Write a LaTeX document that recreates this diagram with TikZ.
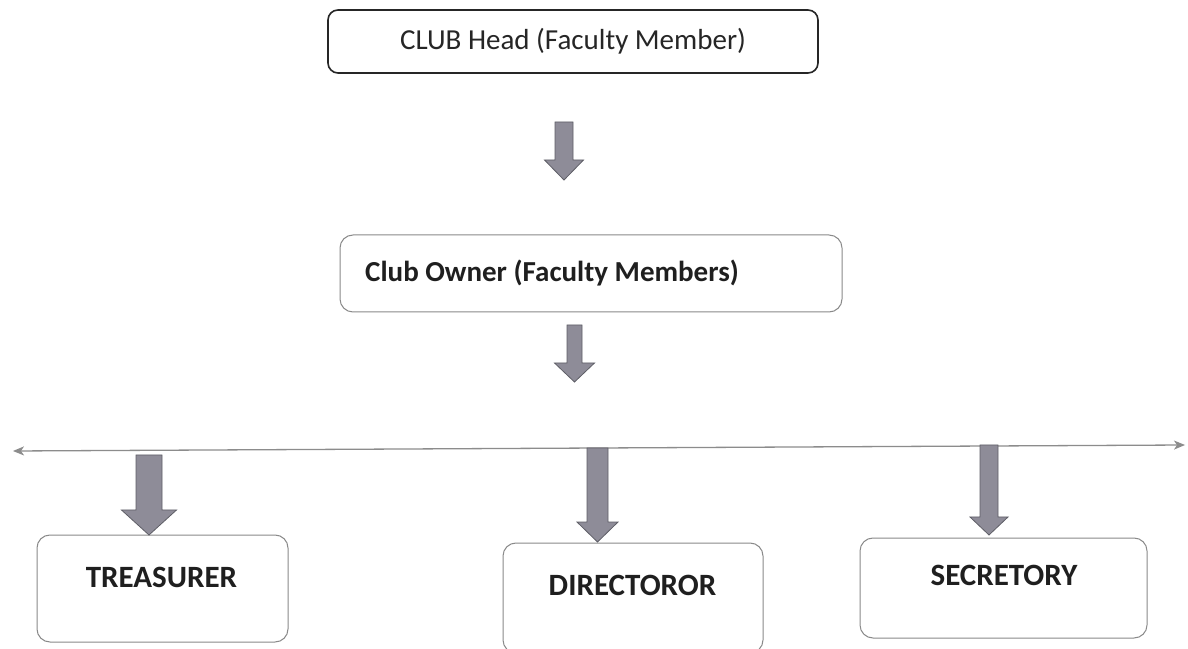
\documentclass[tikz,border=0pt]{standalone}
\usepackage{fontspec}
\setmainfont{Carlito}
\usetikzlibrary{arrows.meta}
\definecolor{arrfill}{HTML}{8E8C98}
\definecolor{arrdraw}{HTML}{5E5E66}
\definecolor{boxgray}{HTML}{8A8A8A}
\definecolor{linegray}{HTML}{8C8C8C}
\newcommand{\fatarr}[6]{%
  \filldraw[fatarrow] (#1-#5,648-#2) -- (#1+#5,648-#2) -- (#1+#5,648-#3) -- (#1+#6,648-#3)
    -- (#1,648-#4) -- (#1-#6,648-#3) -- (#1-#5,648-#3) -- cycle;}
\tikzset{
  fatarrow/.style={fill=arrfill, draw=arrdraw, line width=0.8pt, line join=miter},
  headbox/.style={draw=black!85, line width=1.6pt, rounded corners=10pt, inner sep=0pt},
  softbox/.style={draw=boxgray, line width=1pt, rounded corners=13pt, inner sep=0pt},
  toplabel/.style={font=\fontsize{29}{34}\selectfont, text=black!85, inner sep=0pt},
  boldlabel/.style={font=\fontsize{29}{34}\selectfont\bfseries, text=black!88, inner sep=0pt},
  rolelabel/.style={font=\fontsize{31}{36}\selectfont\bfseries, text=black!88, inner sep=0pt},
}
\begin{document}
\begin{tikzpicture}[x=1pt,y=1pt]
\useasboundingbox (0,0) rectangle (1188,648);
\fill[white] (0,0) rectangle (1188,648);

% boxes
\node[headbox, minimum width=490pt, minimum height=63pt] (head) at (573,648-41.5) {};
\node[toplabel] (headtxt) at (head.center) {CLUB Head (Faculty Member)};

\node[softbox, minimum width=502pt, minimum height=77pt] (owner) at (591,648-273.5) {};
\node[boldlabel, anchor=base west] (ownertxt) at (365,648-282) {Club Owner (Faculty Members)};

\node[softbox, minimum width=251pt, minimum height=107pt] (treas) at (162.5,648-588.5) {};
\node[rolelabel, anchor=base] (treastxt) at (161.5,648-587) {TREASURER};

\node[softbox, minimum width=260pt, minimum height=110pt] (dir) at (633,648-598) {};
\node[rolelabel, anchor=base] (dirtxt) at (632.5,648-595) {DIRECTOROR};

\node[softbox, minimum width=287pt, minimum height=100pt] (sec) at (1003.5,648-588) {};
\node[rolelabel, anchor=base] (sectxt) at (1004,648-585) {SECRETORY};

% horizontal line with arrow heads
\coordinate (lineL) at (13,648-451);
\coordinate (lineR) at (1185,648-445);
\draw[linegray, line width=1.3pt, {Stealth[length=11pt,width=9pt,inset=3pt]}-{Stealth[length=11pt,width=9pt,inset=3pt]}] (lineL) -- (lineR);

% block arrows
\fatarr{564}{122}{160}{180}{9}{19.5}
\fatarr{574.5}{325}{363}{382}{7.5}{20}
\fatarr{149}{455}{510}{535}{13}{27.5}
\fatarr{597.5}{448}{522}{542}{10.5}{20.5}
\fatarr{989}{445}{517}{535}{9}{19}
\end{tikzpicture}
\end{document}
